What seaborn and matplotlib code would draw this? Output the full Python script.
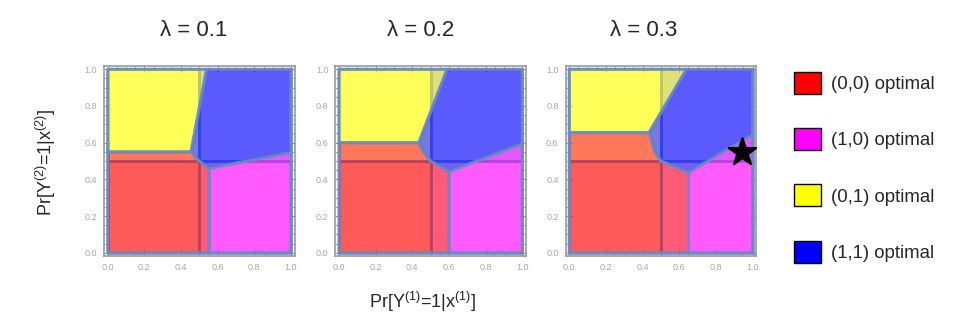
import numpy as np
import matplotlib
matplotlib.use("Agg")
import matplotlib.pyplot as plt
import seaborn as sns
from matplotlib.patches import Polygon, Patch

sns.set_theme(style="white")
plt.rcParams['font.family'] = ['Liberation Sans', 'DejaVu Sans']
plt.rcParams['mathtext.fontset'] = 'custom'
plt.rcParams['mathtext.rm'] = 'Liberation Sans'
plt.rcParams['mathtext.it'] = 'Liberation Sans'

# region corners (one entry per lambda)
lambdas = [0.1, 0.2, 0.3]
yellow_bottom = [0.55, 0.60, 0.655]   # lower edge of the (0,1) region
corner_x = [0.455, 0.436, 0.436]      # where yellow, red and blue meet
bend_x = [0.475, 0.46, 0.467]         # bend on the red/blue border
bend_y = [0.525, 0.55, 0.55]
top_x = [0.54, 0.59, 0.64]            # yellow/blue border at y = 1
right_y = [0.547, 0.596, 0.645]       # magenta/blue border at x = 1
split_x = [0.553, 0.60, 0.65]         # red/magenta border
split_y = [0.46, 0.442, 0.438]
star_x, star_y = 0.94, 0.55

labels = ['(0,0) optimal', '(1,0) optimal', '(0,1) optimal', '(1,1) optimal']
colors = ['#ff0000', '#ff00ff', '#ffff00', '#0000ff']
edge = '#6a8cc2'

fig = plt.figure(figsize=(9.6, 3.26), dpi=100)
lefts = [104 / 960, 335.3 / 960, 565.6 / 960]
title_x = [194, 421, 644]

for i, lam in enumerate(lambdas):
    ax = fig.add_axes([lefts[i], 1 - 256.4 / 326, 190.7 / 960, 190.8 / 326])

    # lambda = 0 quadrants underneath
    quads = [
        [(0, 0), (0.5, 0), (0.5, 0.5), (0, 0.5)],
        [(0.5, 0), (1, 0), (1, 0.5), (0.5, 0.5)],
        [(0, 0.5), (0.5, 0.5), (0.5, 1), (0, 1)],
        [(0.5, 0.5), (1, 0.5), (1, 1), (0.5, 1)],
    ]
    for q, c in zip(quads, colors):
        ax.add_patch(Polygon(q, closed=True, facecolor=matplotlib.colors.to_rgba(c, 0.25),
                             edgecolor=edge, lw=1.8, zorder=1))

    red = [(0, 0), (split_x[i], 0), (split_x[i], split_y[i]), (0.5, 0.5),
           (bend_x[i], bend_y[i]), (corner_x[i], yellow_bottom[i]), (0, yellow_bottom[i])]
    magenta = [(split_x[i], 0), (1, 0), (1, right_y[i]), (split_x[i], split_y[i])]
    yellow = [(0, yellow_bottom[i]), (corner_x[i], yellow_bottom[i]), (top_x[i], 1), (0, 1)]
    blue = [(corner_x[i], yellow_bottom[i]), (top_x[i], 1), (1, 1), (1, right_y[i]),
            (split_x[i], split_y[i]), (0.5, 0.5), (bend_x[i], bend_y[i])]
    for poly, c in zip([red, magenta, yellow, blue], colors):
        ax.add_patch(Polygon(poly, closed=True, facecolor=matplotlib.colors.to_rgba(c, 0.53),
                             edgecolor=matplotlib.colors.to_rgba(edge, 0.9), lw=2.2,
                             joinstyle='round', zorder=2))

    if i == 2:
        sns.scatterplot(x=[star_x], y=[star_y], marker='*', s=420, color='black',
                        edgecolor='black', ax=ax, zorder=5, legend=False)

    ax.set_xlim(-0.02, 1.02)
    ax.set_ylim(-0.02, 1.02)
    ticks = np.arange(0, 1.01, 0.2)
    ax.set_xticks(ticks)
    ax.set_yticks(ticks)
    ax.set_xticklabels([f'{t:.1f}' for t in ticks])
    ax.set_yticklabels([f'{t:.1f}' for t in ticks])
    ax.set_xticks(np.arange(0, 1.01, 0.05), minor=True)
    ax.set_yticks(np.arange(0, 1.01, 0.05), minor=True)
    ax.tick_params(which='both', direction='in', top=True, right=True, bottom=True, left=True,
                   color='#8c8c8c', labelsize=6.5, labelcolor='#a8a8a8', pad=5)
    ax.tick_params(which='major', length=4, width=0.8)
    ax.tick_params(which='minor', length=2, width=0.6)
    for s in ax.spines.values():
        s.set_color('#9a9a9a')
        s.set_linewidth(1.2)
    ax.set_xlabel('')
    ax.set_ylabel('')

    fig.text(title_x[i] / 960, 1 - 31 / 326, f'λ = {lam}',
             ha='center', va='center', fontsize=16)

fig.text(46 / 960, 1 - 162 / 326, r'Pr[Y$^{(2)}$=1|x$^{(2)}$]', rotation=90,
         ha='center', va='center', fontsize=13)
fig.text(423 / 960, 1 - 302 / 326, r'Pr[Y$^{(1)}$=1|x$^{(1)}$]',
         ha='center', va='center', fontsize=13)

handles = [Patch(facecolor=c, edgecolor='black', lw=1.0) for c in colors]
fs = 13.4
fig.legend(handles, labels, loc='upper left', bbox_to_anchor=(794 / 960, 1 - 72 / 326),
           frameon=False, fontsize=fs, handlelength=27 / (fs * 100 / 72),
           handleheight=27 / (fs * 100 / 72), handletextpad=0.55,
           labelspacing=1.83, borderpad=0, borderaxespad=0)

fig.savefig('out.png', dpi=100)
